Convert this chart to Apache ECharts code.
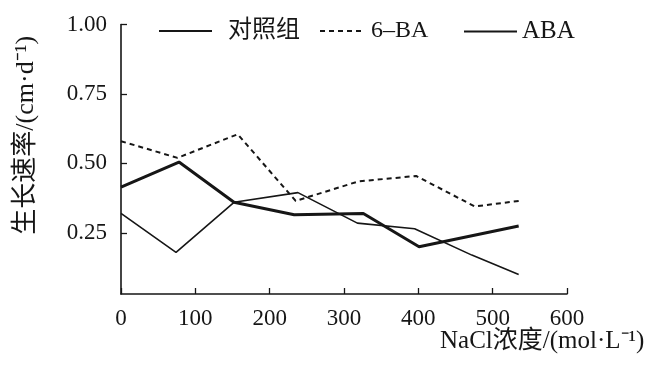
<!DOCTYPE html>
<html>
<head>
<meta charset="utf-8">
<script src="https://cdn.jsdelivr.net/npm/echarts@6/dist/echarts.min.js"></script>
<style>
html,body{margin:0;padding:0;background:#fff;}
#chart{width:655px;height:365px;}
</style>
</head>
<body>
<div id="chart"></div>
<script>
// ---- data ----
var seriesNames = ['对照组', '6–BA', 'ABA'];
var ctrlX = [0, 74, 152, 238, 318, 395, 472, 535];
var ctrlY = [0.32, 0.18, 0.36, 0.395, 0.285, 0.265, 0.17, 0.10];
var baX   = [0, 76, 157, 235, 319, 397, 476, 535];
var baY   = [0.58, 0.52, 0.605, 0.365, 0.435, 0.455, 0.345, 0.365];
var abaX  = [0, 78, 152, 233, 326, 401, 535];
var abaY  = [0.415, 0.505, 0.36, 0.315, 0.32, 0.20, 0.275];
var yTicks = [0.25, 0.50, 0.75, 1.00];
var xMin = 0, xMax = 600, xStep = 100;
var yMin = 0.03, yMax = 1.0;
var xName = 'NaCl浓度/(mol·L⁻¹)';
var yName = '生长速率/(cm·d⁻¹)';

function pairs(xs, ys) {
  var out = [];
  for (var i = 0; i < xs.length; i++) out.push([xs[i], ys[i]]);
  return out;
}

var ink = '#161616';
var serif = '"Liberation Serif", "Noto Sans CJK SC", serif';
var noSym = {color: 'rgba(0,0,0,0)', borderWidth: 0, opacity: 0};

var chart = echarts.init(document.getElementById('chart'), null, {renderer: 'canvas'});
var option = {
  backgroundColor: '#ffffff',
  animation: false,
  grid: {left: 121, right: 88, top: 24.5, bottom: 71, containLabel: false, outerBoundsMode: 'none'},
  legend: [
    {data: [seriesNames[0]], left: 153, top: 14, itemWidth: 53, itemHeight: 12, itemStyle: noSym,
     textStyle: {fontFamily: serif, fontSize: 24, color: ink, padding: [0, 0, 0, 11]}},
    {data: [seriesNames[1]], left: 314, top: 14, itemWidth: 44, itemHeight: 12, itemStyle: noSym,
     textStyle: {fontFamily: serif, fontSize: 24, color: ink, padding: [0, 0, 0, 2]}},
    {data: [seriesNames[2]], left: 458, top: 14, itemWidth: 53, itemHeight: 12, itemStyle: noSym,
     textStyle: {fontFamily: serif, fontSize: 25, color: ink, padding: [0, 0, 0, 0]}}
  ],
  graphic: [
    {type: 'text', left: 440, top: 329,
     style: {text: xName, font: '25px ' + serif, fill: ink}}
  ],
  xAxis: {
    type: 'value', min: xMin, max: xMax, interval: xStep,
    axisLine: {show: true, onZero: false, lineStyle: {color: ink, width: 1.6}},
    axisTick: {show: true, inside: true, length: 6, lineStyle: {color: ink, width: 1.3}},
    axisLabel: {fontFamily: serif, fontSize: 23, color: ink, margin: 13},
    splitLine: {show: false}
  },
  yAxis: {
    type: 'value', min: yMin, max: yMax,
    name: yName, nameLocation: 'middle', nameGap: 82,
    nameTextStyle: {fontFamily: serif, fontSize: 26, color: ink, padding: [0, 0, 0, 48]},
    axisLine: {show: true, onZero: false, lineStyle: {color: ink, width: 1.6}},
    axisTick: {show: true, inside: true, length: 6, customValues: yTicks, lineStyle: {color: ink, width: 1.3}},
    axisLabel: {fontFamily: serif, fontSize: 23, color: ink, margin: 14, customValues: yTicks,
      formatter: function (v) { return v.toFixed(2); }},
    splitLine: {show: false}
  },
  series: [
    {name: seriesNames[0], type: 'line', data: pairs(ctrlX, ctrlY), symbol: 'none',
     lineStyle: {color: ink, width: 1.6, type: 'solid'}, itemStyle: {color: ink}},
    {name: seriesNames[1], type: 'line', data: pairs(baX, baY), symbol: 'none',
     lineStyle: {color: ink, width: 2, type: [5, 4]}, itemStyle: {color: ink}},
    {name: seriesNames[2], type: 'line', data: pairs(abaX, abaY), symbol: 'none',
     lineStyle: {color: ink, width: 3, type: 'solid'}, itemStyle: {color: ink}}
  ]
};
chart.setOption(option);
</script>
</body>
</html>
